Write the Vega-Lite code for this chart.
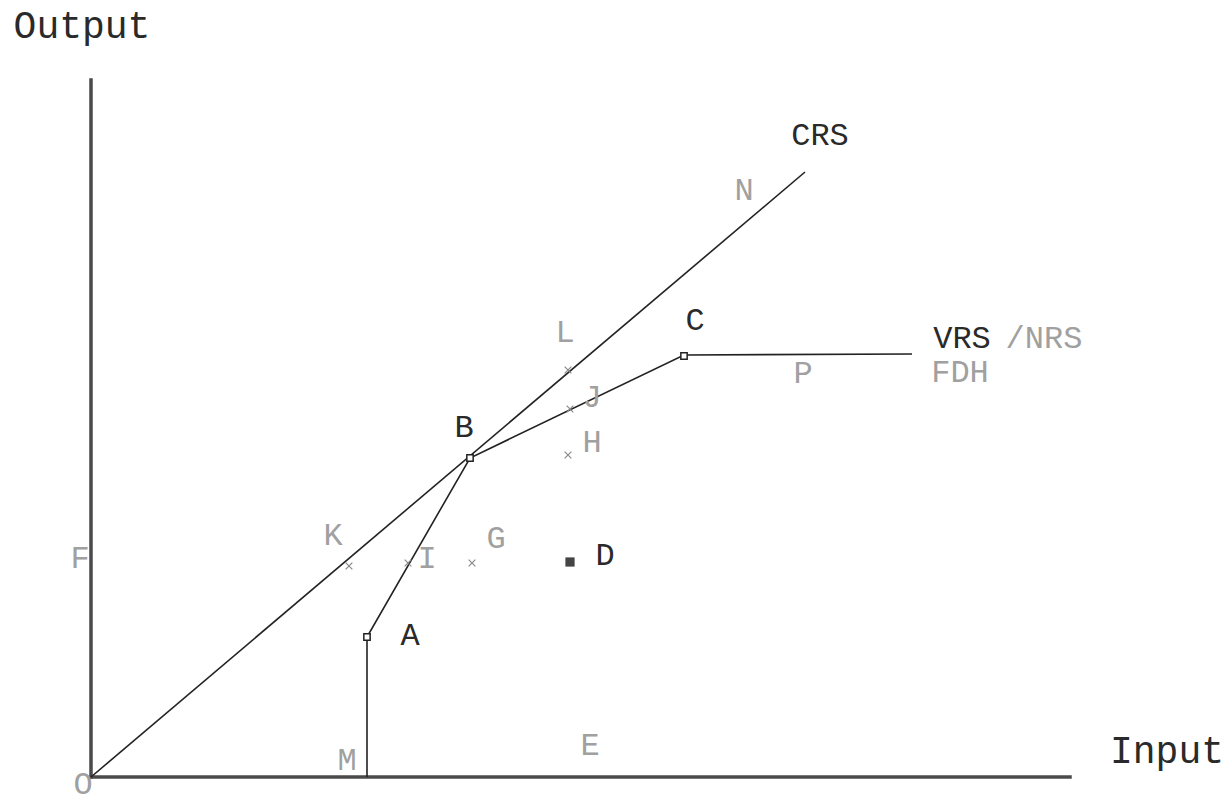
{
  "$schema": "https://vega.github.io/schema/vega-lite/v6.json",
  "width": 1232,
  "height": 804,
  "padding": 0,
  "autosize": {"type": "fit", "contains": "padding"},
  "background": "white",
  "config": {"view": {"stroke": null}},
  "datasets": {
    "axes": [
      {"series": "x", "i": 0, "input": 0, "output": 0},
      {"series": "x", "i": 1, "input": 979, "output": 0},
      {"series": "y", "i": 0, "input": 0, "output": 0},
      {"series": "y", "i": 1, "input": 0, "output": 697}
    ],
    "frontiers": [
      {"series": "CRS", "i": 0, "input": 0, "output": 0},
      {"series": "CRS", "i": 1, "input": 714, "output": 605},
      {"series": "VRS", "i": 0, "input": 276, "output": 0},
      {"series": "VRS", "i": 1, "input": 276, "output": 140},
      {"series": "VRS", "i": 2, "input": 379, "output": 319},
      {"series": "VRS", "i": 3, "input": 593, "output": 422},
      {"series": "VRS", "i": 4, "input": 821, "output": 423}
    ],
    "units": [
      {"name": "A", "input": 276, "output": 140},
      {"name": "B", "input": 379, "output": 319},
      {"name": "C", "input": 593, "output": 421}
    ],
    "inefficient": [
      {"name": "D", "input": 479, "output": 215}
    ],
    "projections": [
      {"name": "K", "input": 258, "output": 211},
      {"name": "I", "input": 317, "output": 214},
      {"name": "G", "input": 381, "output": 214},
      {"name": "L", "input": 477, "output": 407},
      {"name": "J", "input": 479, "output": 368},
      {"name": "H", "input": 477, "output": 322}
    ],
    "labels": [
      {"label": "O", "tone": "light", "input": -8, "output": -17},
      {"label": "M", "tone": "light", "input": 256, "output": 7},
      {"label": "A", "tone": "dark", "input": 319, "output": 132},
      {"label": "B", "tone": "dark", "input": 373, "output": 340},
      {"label": "C", "tone": "dark", "input": 604, "output": 447},
      {"label": "D", "tone": "dark", "input": 514, "output": 212},
      {"label": "E", "tone": "light", "input": 499, "output": 22},
      {"label": "F", "tone": "light", "input": -11, "output": 209},
      {"label": "G", "tone": "light", "input": 405, "output": 229},
      {"label": "H", "tone": "light", "input": 501, "output": 325},
      {"label": "I", "tone": "light", "input": 336, "output": 209},
      {"label": "J", "tone": "light", "input": 501, "output": 370},
      {"label": "K", "tone": "light", "input": 242, "output": 232},
      {"label": "L", "tone": "light", "input": 474, "output": 435},
      {"label": "N", "tone": "light", "input": 653, "output": 577},
      {"label": "P", "tone": "light", "input": 712, "output": 394},
      {"label": "CRS", "tone": "dark", "input": 729, "output": 632},
      {"label": "VRS", "tone": "dark", "input": 871, "output": 429},
      {"label": "/NRS", "tone": "light", "input": 953, "output": 429},
      {"label": "FDH", "tone": "light", "input": 869, "output": 395}
    ],
    "titles": [
      {"label": "Output", "input": -9, "output": 739},
      {"label": "Input", "input": 1076, "output": 14}
    ]
  },
  "encoding": {
    "x": {"field": "input", "type": "quantitative", "scale": {"domain": [-91, 1141], "nice": false, "zero": false}, "axis": null},
    "y": {"field": "output", "type": "quantitative", "scale": {"domain": [-27, 777], "nice": false, "zero": false}, "axis": null}
  },
  "layer": [
    {
      "data": {"name": "axes"},
      "mark": {"type": "line", "color": "#4a4a4a", "strokeWidth": 3.5, "strokeCap": "square"},
      "encoding": {"detail": {"field": "series"}, "order": {"field": "i", "type": "quantitative"}}
    },
    {
      "data": {"name": "frontiers"},
      "mark": {"type": "line", "color": "#222222", "strokeWidth": 1.6},
      "encoding": {"detail": {"field": "series"}, "order": {"field": "i", "type": "quantitative"}}
    },
    {
      "data": {"name": "units"},
      "mark": {"type": "point", "shape": "square", "size": 40, "filled": false, "stroke": "#222222", "strokeWidth": 1.5, "fill": "white", "opacity": 1}
    },
    {
      "data": {"name": "inefficient"},
      "mark": {"type": "point", "shape": "square", "size": 85, "filled": true, "color": "#444444", "opacity": 1}
    },
    {
      "data": {"name": "projections"},
      "mark": {"type": "point", "shape": "M-1,-1L1,1M-1,1L1,-1", "size": 45, "filled": false, "stroke": "#8a8a8a", "strokeWidth": 1.2, "opacity": 1}
    },
    {
      "data": {"name": "labels"},
      "mark": {"type": "text", "font": "Liberation Mono", "fontSize": 32, "align": "center", "baseline": "alphabetic"},
      "encoding": {
        "text": {"field": "label"},
        "color": {"field": "tone", "type": "nominal", "scale": {"domain": ["dark", "light"], "range": ["#2a2a2a", "#a0a0a0"]}, "legend": null}
      }
    },
    {
      "data": {"name": "titles"},
      "mark": {"type": "text", "font": "Liberation Mono", "fontSize": 38, "align": "center", "baseline": "alphabetic", "color": "#2a2a2a"},
      "encoding": {"text": {"field": "label"}}
    }
  ]
}
